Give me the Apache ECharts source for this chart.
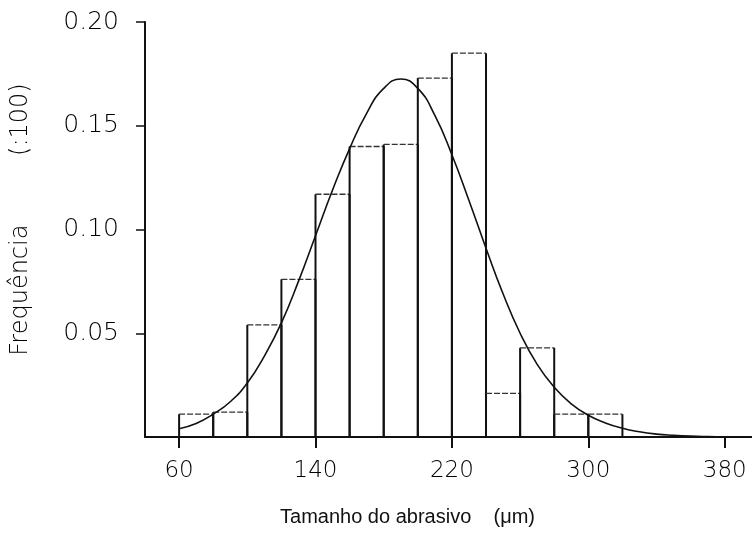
<!DOCTYPE html>
<html lang="pt">
<head>
<meta charset="UTF-8">
<title>Frequência x Tamanho do abrasivo</title>
<script src="https://cdn.jsdelivr.net/npm/echarts@6/dist/echarts.min.js"></script>
<style>
    html, body { margin: 0; padding: 0; background: #fff; }
    #chart { width: 752px; height: 546px; }
</style>
</head>
<body>
<div id="chart"></div>
<script>
    // classes do histograma (µm)
    var binStart = [60, 80, 100, 120, 140, 160, 180, 200, 220, 240, 260, 280, 300];
    var binEnd   = [80, 100, 120, 140, 160, 180, 200, 220, 240, 260, 280, 300, 320];
    var freq     = [0.011, 0.012, 0.054, 0.076, 0.117, 0.140, 0.141, 0.173, 0.185, 0.021, 0.043, 0.011, 0.011];

    // curva ajustada, lida ponto a ponto do grafico
    var curveX = [60, 70, 80, 90, 100, 110, 120, 130, 140, 150, 160, 170, 180, 190, 200, 210, 220, 230,
                  240, 250, 260, 270, 280, 290, 300, 310, 320, 330, 340, 350, 360, 370, 380, 390];
    var curveY = [0.004, 0.0065, 0.011, 0.017, 0.026, 0.039, 0.055, 0.075, 0.097, 0.119, 0.139, 0.156,
                  0.168, 0.1725, 0.168, 0.155, 0.136, 0.114, 0.091, 0.069, 0.050, 0.035, 0.024, 0.016,
                  0.0105, 0.0068, 0.0042, 0.0025, 0.0014, 0.0008, 0.0004, 0.0002, 0.0001, 0];

    var xTicks = [60, 140, 220, 300, 380];
    var yTicks = [0.05, 0.10, 0.15, 0.20];

    var ink = '#000';
    var labelFont = 'DejaVu Sans';

    var barData = binStart.map(function (s, i) {
        return [s, binEnd[i], freq[i]];
    });
    var curveData = curveX.map(function (x, i) {
        return [x, curveY[i]];
    });

    function renderBar(params, api) {
        var p0 = api.coord([api.value(0), 0]);
        var p1 = api.coord([api.value(1), api.value(2)]);
        var edge = { stroke: '#111', lineWidth: 2 };
        return {
            type: 'group',
            children: [
                { type: 'line', shape: { x1: p0[0], y1: p0[1], x2: p0[0], y2: p1[1] }, style: edge },
                { type: 'line', shape: { x1: p1[0], y1: p0[1], x2: p1[0], y2: p1[1] }, style: edge },
                { type: 'line', shape: { x1: p0[0], y1: p1[1], x2: p1[0], y2: p1[1] },
                  style: { stroke: '#333', lineWidth: 1.3, lineDash: [6, 2] } }
            ]
        };
    }

    var myChart = echarts.init(document.getElementById('chart'));

    var option = {
        animation: false,
        backgroundColor: '#fff',
        grid: { left: 145, right: 0, top: 22, bottom: 109 },
        xAxis: {
            type: 'value',
            min: 40,
            max: 396,
            name: 'Tamanho do abrasivo    (μm)',
            nameLocation: 'middle',
            nameGap: 70,
            nameTextStyle: {
                fontFamily: 'Liberation Sans',
                fontSize: 20,
                color: '#111',
                padding: [0, 82, 0, 0]
            },
            axisLine: { lineStyle: { color: '#111', width: 2 } },
            axisTick: { customValues: xTicks, length: 11, lineStyle: { color: '#111', width: 2 } },
            axisLabel: {
                customValues: xTicks,
                margin: 23,
                fontFamily: labelFont,
                fontWeight: 300,
                fontSize: 23,
                color: ink
            },
            splitLine: { show: false }
        },
        yAxis: {
            type: 'value',
            min: 0,
            max: 0.2,
            name: 'Frequência         (:100)',
            nameLocation: 'middle',
            nameGap: 112,
            nameTextStyle: {
                fontFamily: labelFont,
                fontWeight: 300,
                fontSize: 24,
                color: ink,
                padding: [0, 0, 0, 20]
            },
            axisLine: { show: true, lineStyle: { color: '#111', width: 2 } },
            axisTick: { show: true, customValues: yTicks, length: 9, lineStyle: { color: '#111', width: 1.5 } },
            axisLabel: {
                customValues: yTicks,
                margin: 26,
                fontFamily: labelFont,
                fontWeight: 300,
                fontSize: 25,
                color: ink,
                formatter: function (v) { return v.toFixed(2); }
            },
            splitLine: { show: false }
        },
        series: [
            {
                type: 'custom',
                renderItem: renderBar,
                encode: { x: [0, 1], y: 2 },
                data: barData,
                z: 2
            },
            {
                type: 'line',
                data: curveData,
                smooth: true,
                showSymbol: false,
                lineStyle: { color: '#111', width: 1.6 },
                z: 3
            }
        ]
    };

    myChart.setOption(option);
</script>
</body>
</html>
